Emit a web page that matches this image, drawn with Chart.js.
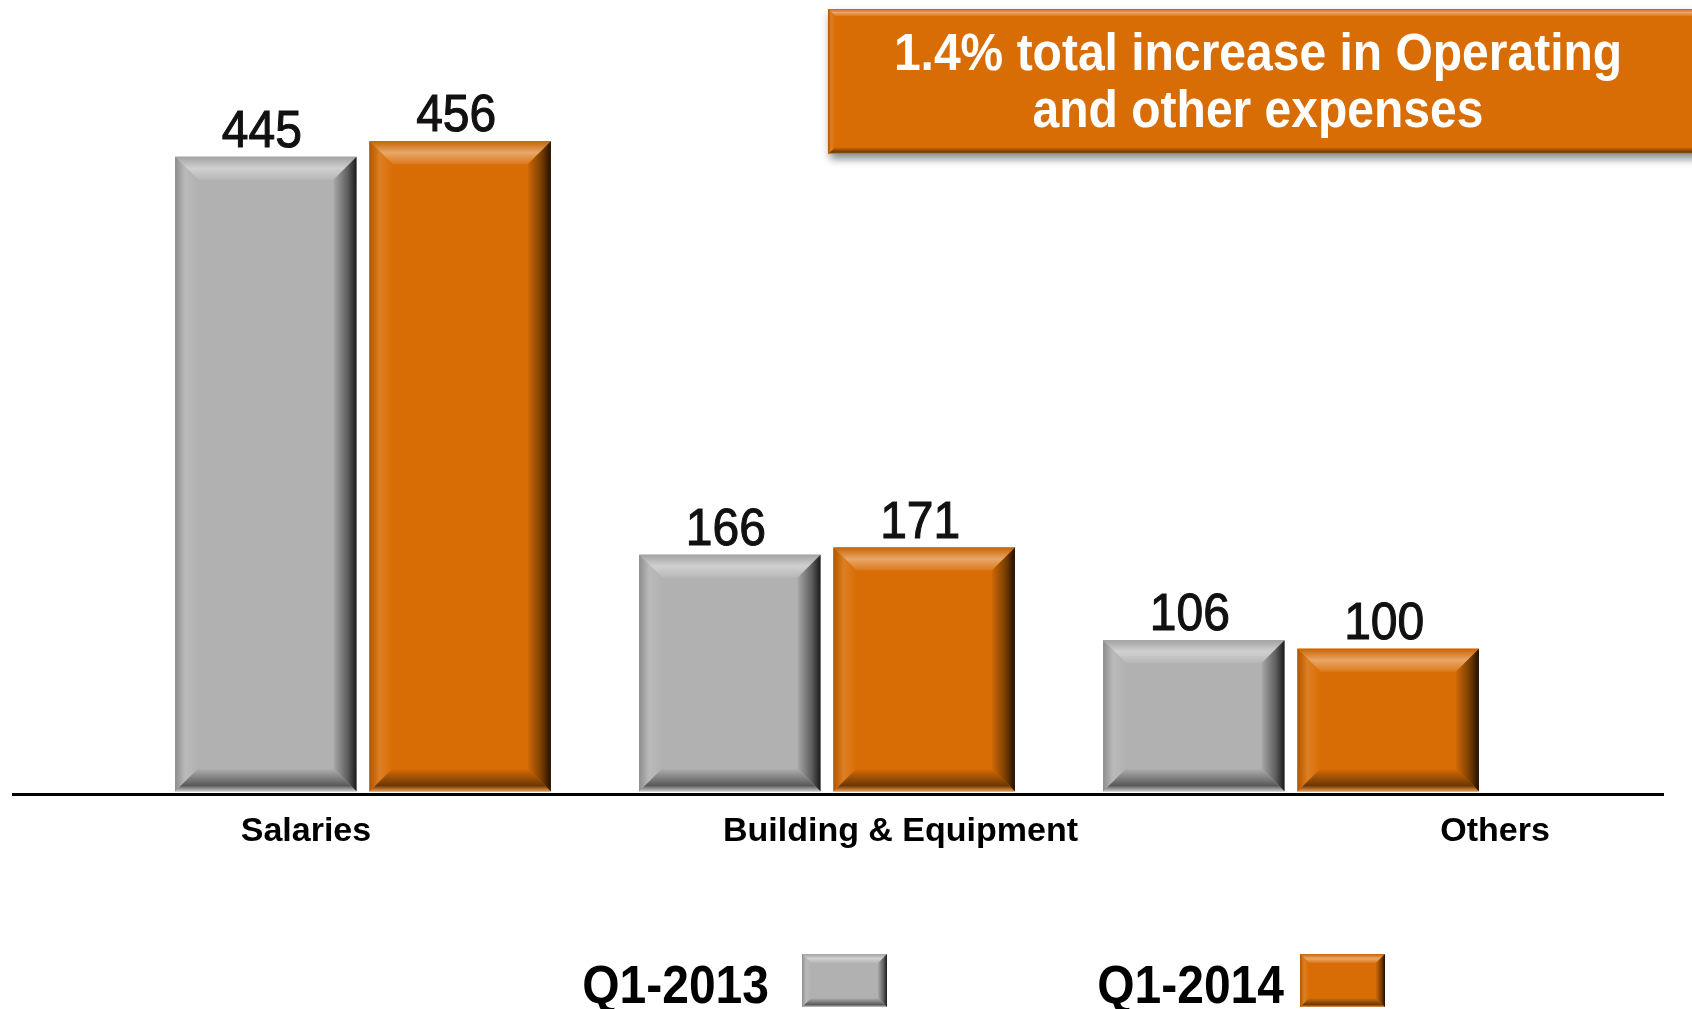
<!DOCTYPE html>
<html>
    <head>
        <meta charset="utf-8">
        <title>Operating and other expenses</title>
        <script src="https://cdn.jsdelivr.net/npm/chart.js@4.4.1"></script>
        <style>
            html, body {
                margin: 0;
                padding: 0;
                background: #fff;
            }
            #container {
                width: 1692px;
                height: 1009px;
            }
        </style>
    </head>
    <body>
        <div id="container">
            <canvas id="vis"></canvas>
        </div>
        <script>
            const categories = ['Salaries', 'Building & Equipment', 'Others'];
            const seriesLabels = ['Q1-2013', 'Q1-2014'];
            const q1_2013 = [445, 166, 106];
            const q1_2014 = [456, 171, 100];
            const calloutLines = ['1.4% total increase in Operating', 'and other expenses'];

            const colors = ['#B1B1B1', '#D96D05'];
            const FONT = '"Liberation Sans", Arial, sans-serif';

            function mix(hex, toWhite, t) {
                const n = parseInt(hex.slice(1), 16);
                const r = n >> 16, g = (n >> 8) & 255, b = n & 255;
                const to = toWhite ? 255 : 0;
                return `rgb(${Math.round(r + (to - r) * t)},${Math.round(g + (to - g) * t)},${Math.round(b + (to - b) * t)})`;
            }
            const lighten = (c, t) => mix(c, true, t);
            const darken = (c, t) => mix(c, false, t);

            function poly(ctx, pts, fill) {
                ctx.beginPath();
                ctx.moveTo(pts[0][0], pts[0][1]);
                for (let i = 1; i < pts.length; i++) ctx.lineTo(pts[i][0], pts[i][1]);
                ctx.closePath();
                ctx.fillStyle = fill;
                ctx.fill();
            }

            // the source text is drawn a bit taller than the font's normal shape
            function tallText(ctx, txt, x, y, sy, stroke) {
                ctx.save();
                ctx.translate(x, y);
                ctx.scale(1, sy);
                ctx.fillText(txt, 0, 0);
                if (stroke) ctx.strokeText(txt, 0, 0);
                ctx.restore();
            }

            // PowerPoint style bevel drawn over a rectangle
            function drawBevel(ctx, left, top, right, bottom, color, bevel) {
                const w = right - left, h = bottom - top;
                const b = Math.min(bevel, w / 2, h / 2);
                ctx.save();
                ctx.fillStyle = color;
                ctx.fillRect(left, top, w, h);

                let g = ctx.createLinearGradient(0, top, 0, top + b);
                g.addColorStop(0, darken(color, 0.08));
                g.addColorStop(0.5, lighten(color, 0.4));
                g.addColorStop(1, lighten(color, 0.08));
                poly(ctx, [[left, top], [right, top], [right - b, top + b], [left + b, top + b]], g);

                g = ctx.createLinearGradient(0, bottom - b, 0, bottom);
                g.addColorStop(0, color);
                g.addColorStop(0.75, darken(color, 0.5));
                g.addColorStop(1, lighten(color, 0.3));
                poly(ctx, [[left, bottom], [right, bottom], [right - b, bottom - b], [left + b, bottom - b]], g);

                g = ctx.createLinearGradient(left, 0, left + b, 0);
                g.addColorStop(0, darken(color, 0.2));
                g.addColorStop(0.45, lighten(color, 0.12));
                g.addColorStop(1, color);
                poly(ctx, [[left, top], [left + b, top + b], [left + b, bottom - b], [left, bottom]], g);

                g = ctx.createLinearGradient(right - b, 0, right, 0);
                g.addColorStop(0, darken(color, 0.05));
                g.addColorStop(0.6, darken(color, 0.45));
                g.addColorStop(1, darken(color, 0.85));
                poly(ctx, [[right, top], [right - b, top + b], [right - b, bottom - b], [right, bottom]], g);
                ctx.restore();
            }

            const bevelBars = {
                id: 'bevelBars',
                afterDatasetsDraw(chart) {
                    const ctx = chart.ctx;
                    chart.data.datasets.forEach((ds, i) => {
                        chart.getDatasetMeta(i).data.forEach(bar => {
                            const {x, y, base, width} = bar.getProps(['x', 'y', 'base', 'width'], true);
                            drawBevel(ctx, x - width / 2, y, x + width / 2, base, ds.backgroundColor, 23);
                        });
                    });
                }
            };

            const valueLabels = {
                id: 'valueLabels',
                afterDatasetsDraw(chart) {
                    const ctx = chart.ctx;
                    ctx.save();
                    ctx.font = `48px ${FONT}`;
                    ctx.textAlign = 'center';
                    ctx.textBaseline = 'alphabetic';
                    ctx.fillStyle = '#111';
                    ctx.strokeStyle = '#111';
                    ctx.lineWidth = 1;
                    chart.data.datasets.forEach((ds, i) => {
                        chart.getDatasetMeta(i).data.forEach((bar, j) => {
                            tallText(ctx, String(ds.data[j].y), bar.x - 4, bar.y - 10, 1.08, true);
                        });
                    });
                    ctx.restore();
                }
            };

            const callout = {
                id: 'callout',
                afterDraw(chart) {
                    const ctx = chart.ctx;
                    const left = 828, top = 9, right = chart.width + 20, bottom = 154;
                    ctx.save();
                    ctx.shadowColor = 'rgba(0,0,0,0.45)';
                    ctx.shadowBlur = 8;
                    ctx.shadowOffsetX = 2;
                    ctx.shadowOffsetY = 5;
                    ctx.fillStyle = colors[1];
                    ctx.fillRect(left, top, right - left, bottom - top);
                    ctx.restore();
                    drawBevel(ctx, left, top, right, bottom, colors[1], 7);
                    ctx.save();
                    ctx.fillStyle = '#fff';
                    ctx.font = `bold 48px ${FONT}`;
                    ctx.textAlign = 'center';
                    ctx.textBaseline = 'middle';
                    calloutLines.forEach((t, k) => tallText(ctx, t, 1258, 56 + k * 57, 1.07));
                    ctx.restore();
                }
            };

            // legend with the swatch to the right of its text
            const sideLegend = {
                id: 'sideLegend',
                afterDraw(chart, args, opts) {
                    const ctx = chart.ctx;
                    ctx.save();
                    ctx.font = `bold 48px ${FONT}`;
                    ctx.textAlign = 'right';
                    ctx.textBaseline = 'middle';
                    chart.data.datasets.forEach((ds, i) => {
                        const bx = opts.boxX[i];
                        drawBevel(ctx, bx, opts.top, bx + opts.boxW, opts.top + opts.boxH, ds.backgroundColor, 9);
                        ctx.fillStyle = '#000';
                        tallText(ctx, ds.label, opts.textRight[i], opts.top + opts.boxH / 2 + 8, 1.1);
                    });
                    ctx.restore();
                }
            };

            const data = [q1_2013, q1_2014];
            new Chart(document.getElementById('vis'), {
                type: 'bar',
                data: {
                    datasets: seriesLabels.map((label, i) => ({
                        label,
                        data: data[i].map((v, j) => ({x: j, y: v})),
                        backgroundColor: colors[i],
                        borderWidth: 0,
                        categoryPercentage: 0.838,
                        barPercentage: 0.933
                    }))
                },
                options: {
                    responsive: true,
                    maintainAspectRatio: false,
                    animation: false,
                    layout: {
                        padding: {left: 13, right: 29, top: 10, bottom: 140}
                    },
                    plugins: {
                        legend: {display: false},
                        tooltip: {enabled: false},
                        sideLegend: {boxX: [802, 1300], textRight: [769, 1284], top: 954, boxW: 85, boxH: 53}
                    },
                    scales: {
                        x: {
                            type: 'linear',
                            display: false,
                            offset: false,
                            min: -0.7543,
                            max: 2.8017,
                            afterBuildTicks: s => { s.ticks = categories.map((c, i) => ({value: i})); }
                        },
                        y: {
                            display: false,
                            min: -2,
                            max: 548
                        },
                        x2: {
                            type: 'linear',
                            axis: 'x',
                            position: 'bottom',
                            offset: false,
                            min: -0.4928,
                            max: 2.2826,
                            afterBuildTicks: s => { s.ticks = categories.map((c, i) => ({value: i})); },
                            grid: {display: false, drawTicks: false},
                            border: {display: true, color: '#000', width: 3, z: 1},
                            ticks: {
                                callback: v => categories[v],
                                color: '#000',
                                padding: 17,
                                maxRotation: 0,
                                autoSkip: false,
                                font: {family: FONT, size: 34, weight: 'bold'}
                            }
                        }
                    }
                },
                plugins: [bevelBars, valueLabels, callout, sideLegend]
            });
        </script>
    </body>
</html>
